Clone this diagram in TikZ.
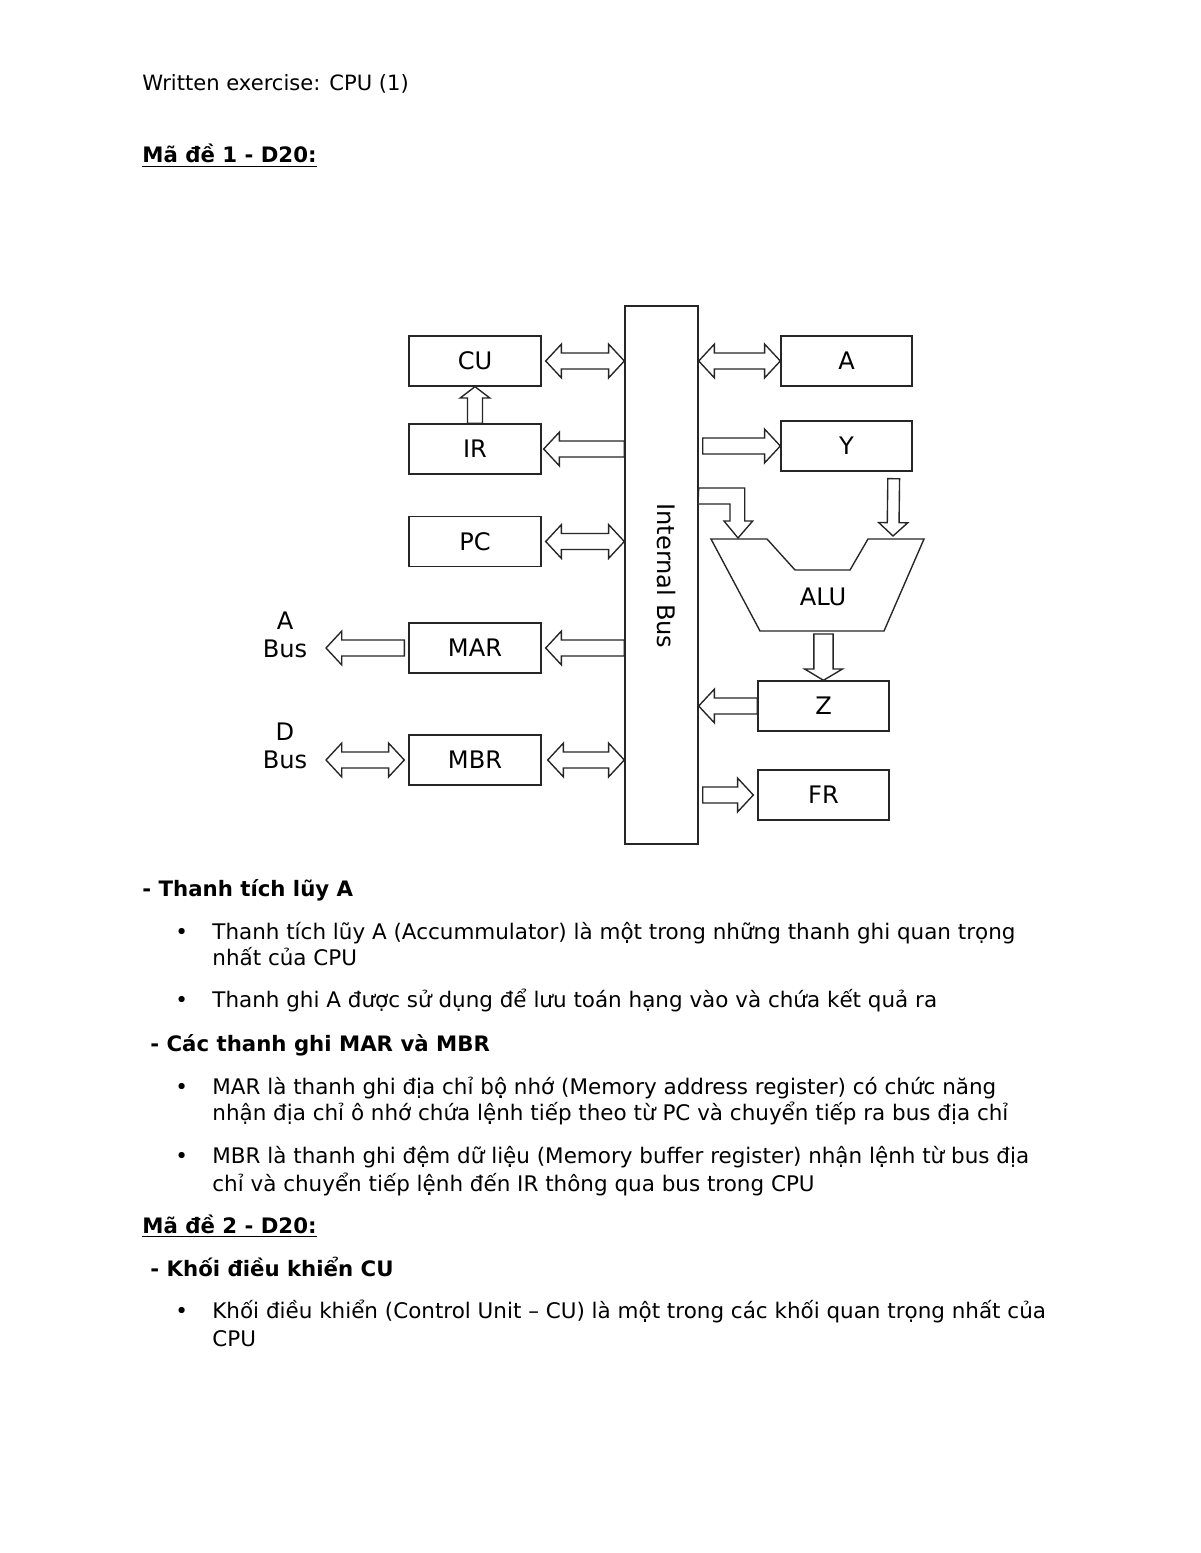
\documentclass[tikz,border=0pt]{standalone}
\usepackage{fontspec}
\setmainfont{DejaVu Sans}
\usetikzlibrary{calc}

\newcommand{\pxu}{0.51pt}
\newcommand{\bodyfont}{\fontsize{10.95}{13}\selectfont}
\newcommand{\headfont}{\fontsize{10.85}{13}\selectfont}
\newcommand{\dgfont}{\fontsize{12.3}{14.3}\selectfont}
\newcommand{\sw}{4.1pt}
\newcommand{\hw}{8.6pt}
\newcommand{\hl}{8pt}

\newcommand{\onear}[2]{%
  \draw[blockar] ($(#1)!\sw!90:(#2)$) -- ($(#2)!\hl!(#1)!\sw!-90:(#1)$)
    -- ($(#2)!\hl!(#1)!\hw!-90:(#1)$) -- (#2)
    -- ($(#2)!\hl!(#1)!\hw!90:(#1)$) -- ($(#2)!\hl!(#1)!\sw!90:(#1)$)
    -- ($(#1)!\sw!-90:(#2)$) -- cycle;}
\newcommand{\twoar}[2]{%
  \draw[blockar] (#1) -- ($(#1)!\hl!(#2)!\hw!90:(#2)$) -- ($(#1)!\hl!(#2)!\sw!90:(#2)$)
    -- ($(#2)!\hl!(#1)!\sw!-90:(#1)$) -- ($(#2)!\hl!(#1)!\hw!-90:(#1)$) -- (#2)
    -- ($(#2)!\hl!(#1)!\hw!90:(#1)$) -- ($(#2)!\hl!(#1)!\sw!90:(#1)$)
    -- ($(#1)!\hl!(#2)!\sw!-90:(#2)$) -- ($(#1)!\hl!(#2)!\hw!-90:(#2)$) -- cycle;}

\begin{document}
\begin{tikzpicture}[x=0.51pt, y=-0.51pt,
  reg/.style={draw=black!85, line width=0.7pt, minimum width=132*\pxu, minimum height=50*\pxu, inner sep=0pt, font=\dgfont},
  blockar/.style={draw=black!85, fill=white, line width=0.7pt, line join=miter},
  txt/.style={anchor=base west, inner sep=0pt, font=\bodyfont},
  head/.style={anchor=base west, inner sep=0pt, font=\headfont}]
  \fill[white] (0,0) rectangle (1200,1553);
  \useasboundingbox (0,0) rectangle (1200,1553);

  \node[txt, font=\fontsize{10.75}{13}\selectfont] (title) at (142,91) {Written exercise: CPU (1)};
  \node[head] (head1) at (142,163) {\underline{\textbf{Mã đề 1 - D20:}}};

  \node[draw=black!85, line width=0.7pt, minimum width=73*\pxu, minimum height=538*\pxu, inner sep=0pt] (bus) at (661.5,575) {};
  \node[rotate=-90, font=\dgfont] (buslbl) at (666,576) {Internal Bus};

  \node[reg] (cu) at (475,361) {CU};
  \node[reg] (ir) at (475,449) {IR};
  \node[reg] (pc) at (475,541.5) {PC};
  \node[reg] (mar) at (475,648) {MAR};
  \node[reg] (mbr) at (475,760) {MBR};
  \node[reg, minimum width=131*\pxu] (abox) at (846.5,361) {A};
  \node[reg, minimum width=131*\pxu] (ybox) at (846.5,446) {Y};
  \node[reg, minimum width=131*\pxu] (zbox) at (823.5,706) {Z};
  \node[reg, minimum width=131*\pxu] (frbox) at (823.5,795) {FR};

  \node[font=\dgfont, align=center, inner sep=0pt] (abus) at (285,635) {A\\Bus};
  \node[font=\dgfont, align=center, inner sep=0pt] (dbus) at (285,746) {D\\Bus};
  \coordinate (abustip) at (326,648);
  \coordinate (dbustip) at (326,760);

  \draw[draw=black!85, line width=0.7pt] (711,539) -- (767,539) -- (795,570) -- (850,570) -- (868,539)
    -- (924,539) -- (884,631) -- (760,631) -- cycle;
  \node[font=\dgfont] (alu) at (823,597) {ALU};
  \coordinate (aluy) at (893,536);
  \coordinate (aluout) at (823.5,634);
  \coordinate (alutip) at (738,538);

  \twoar{[xshift=4*\pxu]cu.east}{bus.west|-cu}
  \onear{bus.west|-ir}{[xshift=2*\pxu]ir.east}
  \twoar{[xshift=4*\pxu]pc.east}{bus.west|-pc}
  \onear{bus.west|-mar}{[xshift=4*\pxu]mar.east}
  \onear{[xshift=-4*\pxu]mar.west}{abustip}
  \twoar{dbustip}{[xshift=-4*\pxu]mbr.west}
  \twoar{[xshift=6*\pxu]mbr.east}{bus.west|-mbr}
  {\renewcommand{\sw}{3.8pt}\renewcommand{\hw}{7.6pt}\renewcommand{\hl}{5.8pt}
   \onear{ir.north}{cu.south}}

  \twoar{bus.east|-abox}{abox.west}
  \onear{[xshift=4*\pxu]bus.east|-ybox}{ybox.west}
  \onear{zbox.west}{bus.east|-zbox}
  \onear{[xshift=4*\pxu]bus.east|-frbox}{[xshift=-4*\pxu]frbox.west}
  {\renewcommand{\sw}{3pt}\renewcommand{\hw}{7.4pt}\renewcommand{\hl}{6.8pt}
   \onear{[xshift=-19*\pxu,yshift=-7*\pxu]ybox.south east}{aluy}}
  {\renewcommand{\sw}{4.9pt}\renewcommand{\hw}{9.7pt}\renewcommand{\hl}{5.8pt}
   \onear{aluout}{zbox.north}}
  \draw[blockar] (bus.east) ++(0,-87) -- ++(46,0) -- ++(0,33) -- ++(8,0) -- (alutip)
    -- ++(-14,-17) -- ++(6,0) -- ++(0,-17) -- ++(-32,0) -- cycle;

  \node[head] (sec1) at (142,896) {\textbf{- Thanh tích lũy A}};
  \node[txt] (l1) at (212,939) {Thanh tích lũy A (Accummulator) là một trong những thanh ghi quan trọng};
  \node[txt] (l2) at (212,965) {nhất của CPU};
  \node[txt] (l3) at (212,1007) {Thanh ghi A được sử dụng để lưu toán hạng vào và chứa kết quả ra};
  \node[head] (sec2) at (150,1051) {\textbf{- Các thanh ghi MAR và MBR}};
  \node[txt] (l4) at (212,1094) {MAR là thanh ghi địa chỉ bộ nhớ (Memory address register) có chức năng};
  \node[txt] (l5) at (212,1120) {nhận địa chỉ ô nhớ chứa lệnh tiếp theo từ PC và chuyển tiếp ra bus địa chỉ};
  \node[txt] (l6) at (212,1163) {MBR là thanh ghi đệm dữ liệu (Memory buffer register) nhận lệnh từ bus địa};
  \node[txt] (l7) at (212,1191) {chỉ và chuyển tiếp lệnh đến IR thông qua bus trong CPU};
  \node[head] (head2) at (142,1233) {\underline{\textbf{Mã đề 2 - D20:}}};
  \node[head] (sec3) at (150,1276) {\textbf{- Khối điều khiển CU}};
  \node[txt] (l8) at (212,1318) {Khối điều khiển (Control Unit – CU) là một trong các khối quan trọng nhất của};
  \node[txt] (l9) at (212,1346) {CPU};
  \foreach \yy in {939,1007,1094,1163,1318}
    \node[txt] (dot\yy) at (175,\yy) {•};
\end{tikzpicture}
\end{document}
